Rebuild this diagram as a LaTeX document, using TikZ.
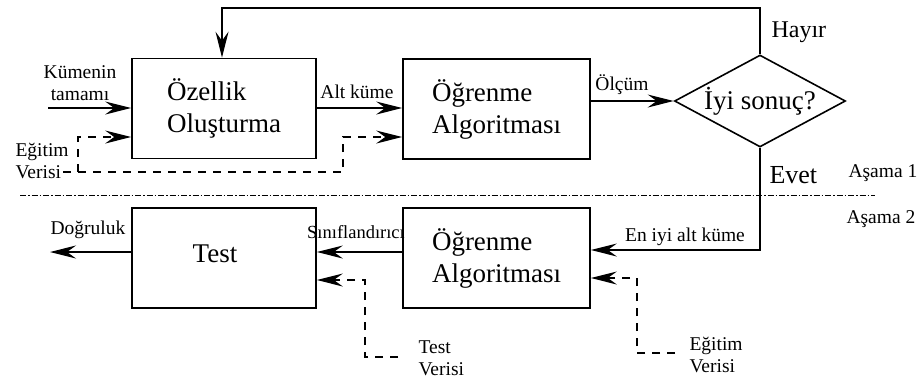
\documentclass[tikz,border=0pt]{standalone}
\usepackage{fontspec}
\setmainfont{Liberation Serif}
\usetikzlibrary{arrows.meta,shapes.geometric}
\begin{document}
\begin{tikzpicture}[x=1pt,y=-1pt,
  big/.style={font=\fontsize{27}{32}\selectfont},
  small/.style={font=\fontsize{19.5}{22}\selectfont},
  box/.style={draw, line width=1.6pt, minimum height=100pt, inner sep=0pt, big, align=left},
  arr/.style={line width=1.3pt, -{Stealth[length=26pt,width=13pt,inset=9pt]}},
  dsh/.style={arr, dash pattern=on 8pt off 7pt},
]
\fill[white] (0,0) rectangle (918,381);
\useasboundingbox (0,0) rectangle (918,381);

% label partly covered by the lower learning box
\node[font=\fontsize{18.5}{22}\selectfont, anchor=east, inner sep=0pt] (sinif) at (405,232) {Sınıflandırıcı};

% blocks
\node[box, minimum width=184pt] (b1) at (224,108.5) {Özellik\\Oluşturma};
\node[box, minimum width=187pt] (b2) at (496.5,109) {Öğrenme\\Algoritması};
\node[draw, line width=1.6pt, diamond, aspect=1.86, minimum width=171pt, minimum height=92pt, inner sep=0pt, big] (d) at (760,101) {İyi sonuç?};
\node[box, minimum width=187pt] (b3) at (496.5,258) {Öğrenme\\Algoritması};
\node[box, minimum width=184pt, label={[big,xshift=-9pt,yshift=4pt]center:Test}] (b4) at (224,258) {};

% stage 1 inputs
\node[small, align=center] (kum) at (80,83.5) {Kümenin\\tamamı};
\coordinate (kin) at (48,108);
\draw[arr] (kin) -- (kin -| b1.west);

\draw[arr] (b1.east |- 0,108) -- (b2.west |- 0,108);
\node[small] (alt) at (357,92) {Alt küme};

\node[small, align=left, anchor=west] (egt1) at (12,160.5) {Eğitim\\Verisi};
\coordinate (e1) at (63,172);
\coordinate (e1a) at (343,172);
\coordinate (e1b) at (78,172);
\draw[dsh] (e1) -- (e1a) -- (343,137) -- (b2.west |- 0,137);
\draw[dsh] (e1b) -- (78,137) -- (b1.west |- 0,137);

% evaluation
\draw[arr] (d.west -| b2.east) -- (d.west);
\node[small] (olc) at (622,85) {Ölçüm};

\coordinate (fb) at (222,8);
\draw[arr] (d.north) |- (fb) -- (fb |- b1.north);
\node[font=\fontsize{24}{28}\selectfont, anchor=west] (hayir) at (768,32) {Hayır};

\node[font=\fontsize{26}{30}\selectfont, anchor=west] (evet) at (766,175) {Evet};
\node[small, anchor=west] (as1) at (845,173) {Aşama 1};
\draw[line width=0.9pt, dash pattern=on 6pt off 2pt on 1.5pt off 2pt] (20,195) -- (875,195);
\node[small, anchor=west] (as2) at (843,219) {Aşama 2};

% stage 2
\coordinate (ey) at (760,250);
\draw[arr] (d.south) -- (ey) -- (ey -| b3.east);
\node[small] (eniyi) at (685,237) {En iyi alt küme};

\coordinate (e2) at (675,353);
\draw[dsh] (e2) -- (637,353) -- (637,278) -- (b3.east |- 0,278);
\node[small, align=left, anchor=west] (egt2) at (686,355) {Eğitim\\Verisi};

\draw[arr] (b3.west |- 0,252) -- (b4.east |- 0,252);

\coordinate (t1) at (398,357);
\draw[dsh] (t1) -- (365,357) -- (365,280) -- (b4.east |- 0,280);
\node[small, align=left, anchor=west] (tv) at (415,358) {Test\\Verisi};

\coordinate (dg) at (50,252);
\draw[arr] (b4.west |- dg) -- (dg);
\node[small] (dog) at (88,230) {Doğruluk};
\end{tikzpicture}
\end{document}
